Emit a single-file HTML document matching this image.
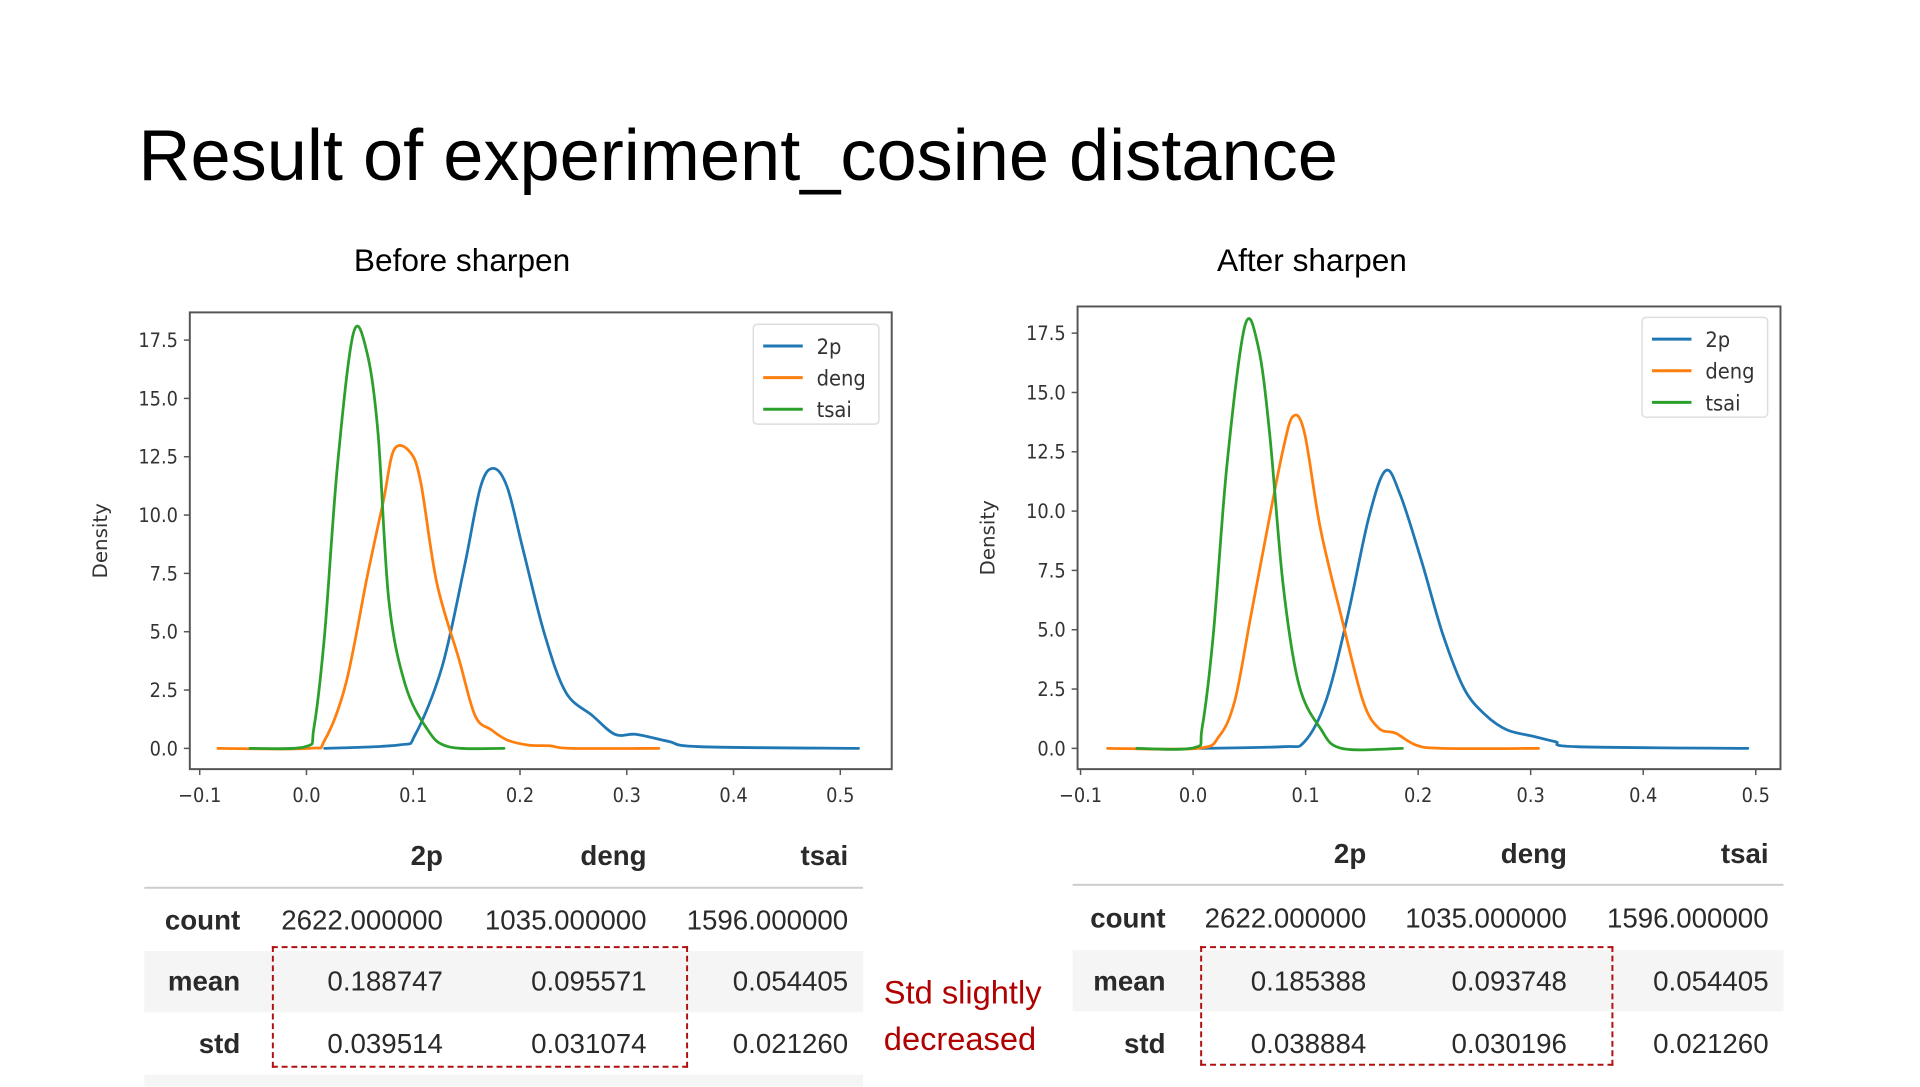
<!DOCTYPE html>
<html><head><meta charset="utf-8"><style>
body{margin:0;width:1920px;height:1080px;background:#fff;overflow:hidden;position:relative;font-family:"Liberation Sans",sans-serif}
#wrap{position:absolute;left:0;top:0;width:1920px;height:1100px;transform:scale(0.9886);transform-origin:0 0}
.abs{position:absolute}
.tbl{position:absolute;font-family:"Liberation Sans",sans-serif;font-size:28px;color:#2a2a2a}
.cell{position:absolute;text-align:right;white-space:nowrap}
</style></head><body>
<div id="wrap">
<div class="abs" style="left:140px;top:116px;font-size:73px;color:#000;white-space:nowrap">Result of experiment_cosine distance</div>
<div class="abs" style="left:358px;top:245px;font-size:32px;color:#000">Before sharpen</div>
<div class="abs" style="left:1231px;top:245px;font-size:32px;color:#000">After sharpen</div>
<svg id="svg" class="abs" style="left:0;top:0" width="1920" height="1100"></svg>

<div class="tbl" style="left:146px;top:840px;width:727px;height:260px">
 <div class="abs" style="left:0;top:57px;width:727px;height:2px;background:#ccc"></div>
 <div class="abs" style="left:0;top:122px;width:727px;height:62px;background:#f5f5f5"></div>
 <div class="abs" style="left:0;top:247px;width:727px;height:12px;background:#f5f5f5"></div>
 <div class="cell" style="right:425px;top:10px;font-weight:bold">2p</div>
 <div class="cell" style="right:219px;top:10px;font-weight:bold">deng</div>
 <div class="cell" style="right:15px;top:10px;font-weight:bold">tsai</div>
 <div class="cell" style="right:630px;top:75px;font-weight:bold">count</div>
 <div class="cell" style="right:425px;top:75px">2622.000000</div>
 <div class="cell" style="right:219px;top:75px">1035.000000</div>
 <div class="cell" style="right:15px;top:75px">1596.000000</div>
 <div class="cell" style="right:630px;top:137px;font-weight:bold">mean</div>
 <div class="cell" style="right:425px;top:137px">0.188747</div>
 <div class="cell" style="right:219px;top:137px">0.095571</div>
 <div class="cell" style="right:15px;top:137px">0.054405</div>
 <div class="cell" style="right:630px;top:200px;font-weight:bold">std</div>
 <div class="cell" style="right:425px;top:200px">0.039514</div>
 <div class="cell" style="right:219px;top:200px">0.031074</div>
 <div class="cell" style="right:15px;top:200px">0.021260</div>
</div>
<div class="abs" style="left:275px;top:957px;width:417px;height:119px;border:2px dashed #b01010"></div>
<div class="abs" style="left:894px;top:980px;font-size:33px;line-height:47px;color:#b00000">Std slightly<br>decreased</div>

<div class="tbl" style="left:1085px;top:838px;width:719px;height:262px">
 <div class="abs" style="left:0;top:56px;width:719px;height:2px;background:#ccc"></div>
 <div class="abs" style="left:0;top:123px;width:719px;height:62px;background:#f5f5f5"></div>
 <div class="cell" style="right:422px;top:10px;font-weight:bold">2p</div>
 <div class="cell" style="right:219px;top:10px;font-weight:bold">deng</div>
 <div class="cell" style="right:15px;top:10px;font-weight:bold">tsai</div>
 <div class="cell" style="right:625px;top:75px;font-weight:bold">count</div>
 <div class="cell" style="right:422px;top:75px">2622.000000</div>
 <div class="cell" style="right:219px;top:75px">1035.000000</div>
 <div class="cell" style="right:15px;top:75px">1596.000000</div>
 <div class="cell" style="right:625px;top:139px;font-weight:bold">mean</div>
 <div class="cell" style="right:422px;top:139px">0.185388</div>
 <div class="cell" style="right:219px;top:139px">0.093748</div>
 <div class="cell" style="right:15px;top:139px">0.054405</div>
 <div class="cell" style="right:625px;top:202px;font-weight:bold">std</div>
 <div class="cell" style="right:422px;top:202px">0.038884</div>
 <div class="cell" style="right:219px;top:202px">0.030196</div>
 <div class="cell" style="right:15px;top:202px">0.021260</div>
</div>
<div class="abs" style="left:1214px;top:957px;width:414px;height:117px;border:2px dashed #b01010"></div>
</div>

<script>
const seriesNames = ["2p","deng","tsai"];
const xTicks = [-0.1,0.0,0.1,0.2,0.3,0.4,0.5];
const xTickLabels = ["\u22120.1","0.0","0.1","0.2","0.3","0.4","0.5"];
const yTicks = [0,2.5,5,7.5,10,12.5,15,17.5];
const yTickLabels = ["0.0","2.5","5.0","7.5","10.0","12.5","15.0","17.5"];

const before2pX = [0.017,0.087,0.102,0.127,0.148,0.163,0.175,0.188,0.203,0.223,0.243,0.268,0.289,0.309,0.339,0.369,0.517];
const before2pY = [0,0.15,0.6,3.5,7.8,11.2,12,11.2,8.5,4.9,2.4,1.4,0.6,0.6,0.3,0.07,0];
const beforeDengX = [-0.083,0.002,0.017,0.037,0.057,0.072,0.082,0.097,0.107,0.122,0.143,0.158,0.173,0.188,0.208,0.228,0.248,0.33];
const beforeDengY = [0,0,0.35,2.8,7.4,10.6,12.8,12.7,11.4,7.1,3.8,1.4,0.8,0.36,0.14,0.11,0,0];
const beforeTsaiX = [-0.053,-0.001,0.007,0.017,0.029,0.044,0.057,0.067,0.077,0.092,0.112,0.133,0.185];
const beforeTsaiY = [0,0.07,0.9,4.9,12.1,17.8,16.9,13.5,6.4,2.8,0.9,0.07,0];

const after2pX = [0.006,0.08,0.099,0.118,0.137,0.156,0.171,0.184,0.203,0.222,0.241,0.26,0.279,0.303,0.322,0.341,0.493];
const after2pY = [0,0.07,0.28,2.0,5.5,9.7,11.7,10.7,7.9,4.8,2.5,1.4,0.78,0.5,0.28,0.07,0];
const afterDengX = [-0.076,0.004,0.023,0.037,0.051,0.065,0.08,0.089,0.099,0.113,0.132,0.151,0.165,0.18,0.198,0.222,0.307];
const afterDengY = [0,0,0.5,2.0,5.5,9.0,12.6,14.0,13.3,9.3,5.5,2.0,0.85,0.64,0.14,0,0];
const afterTsaiX = [-0.05,0.001,0.008,0.018,0.03,0.046,0.058,0.068,0.08,0.094,0.113,0.132,0.186];
const afterTsaiY = [0,0.03,0.85,4.8,11.9,17.8,16.9,13.3,6.9,2.7,0.85,0,0];

const colors = ["#1f77b4","#ff7f0e","#2ca02c"];
const NS="http://www.w3.org/2000/svg";
const svg=document.getElementById('svg');
function mk(tag,attrs,parent){const e=document.createElementNS(NS,tag);for(const k in attrs)e.setAttribute(k,attrs[k]);(parent||svg).appendChild(e);return e;}
function smoothPath(p){
  let d='M'+p[0][0].toFixed(1)+','+p[0][1].toFixed(1);
  for(let i=0;i<p.length-1;i++){
    const p0=p[Math.max(0,i-1)],p1=p[i],p2=p[i+1],p3=p[Math.min(p.length-1,i+2)];
    const c1=[p1[0]+(p2[0]-p0[0])/6,p1[1]+(p2[1]-p0[1])/6];
    const c2=[p2[0]-(p3[0]-p1[0])/6,p2[1]-(p3[1]-p1[1])/6];
    d+=` C${c1[0].toFixed(1)},${c1[1].toFixed(1)} ${c2[0].toFixed(1)},${c2[1].toFixed(1)} ${p2[0].toFixed(1)},${p2[1].toFixed(1)}`;
  }
  return d;
}

function drawChart(cfg,series,prefix){
  const g=mk('g',{});
  
  
  const sx=v=>cfg.x0+(v-(-0.1))/0.6*(cfg.x1-cfg.x0);
  const sy=v=>cfg.y0-(v/17.5)*(cfg.y0-cfg.y1);
  series.forEach((s,i)=>{
    const pts=s.x.map((xv,j)=>[sx(xv),sy(s.y[j])]);
    const pl=mk('path',{d:smoothPath(pts),fill:'none',stroke:colors[i],'stroke-width':2.8,'stroke-linejoin':'round','stroke-linecap':'round'},g);
    
    
  });
  const fr=mk('rect',{x:cfg.fx0,y:cfg.fy0,width:cfg.fx1-cfg.fx0,height:cfg.fy1-cfg.fy0,fill:'none',stroke:'#555','stroke-width':2},g);
  
  
  xTicks.forEach((t,i)=>{
    const x=sx(t);
    mk('line',{x1:x,x2:x,y1:cfg.fy1,y2:cfg.fy1+6,stroke:'#555','stroke-width':1.5},g);
    const tx=mk('text',{x:x,y:cfg.fy1+33,'text-anchor':'middle','font-size':20,fill:'#333','font-family':'DejaVu Sans Condensed, DejaVu Sans, sans-serif'},g);
    tx.textContent=xTickLabels[i];
    
    
  });
  yTicks.forEach((t,i)=>{
    const y=sy(t);
    mk('line',{x1:cfg.fx0-6,x2:cfg.fx0,y1:y,y2:y,stroke:'#555','stroke-width':1.5},g);
    const tx=mk('text',{x:cfg.fx0-12,y:y+7,'text-anchor':'end','font-size':20,fill:'#333','font-family':'DejaVu Sans Condensed, DejaVu Sans, sans-serif'},g);
    tx.textContent=yTickLabels[i];
    
    
  });
  const yl=mk('text',{x:0,y:0,transform:`translate(${cfg.fx0-84},${(cfg.fy0+cfg.fy1)/2}) rotate(-90)`,'text-anchor':'middle','font-size':20,fill:'#333','font-family':'DejaVu Sans, sans-serif'},g);
  yl.textContent='Density';
  
  
  const lg=mk('g',{},g);
  
  
  mk('rect',{x:cfg.lx,y:cfg.ly,width:127,height:101,rx:4,fill:'#fff',stroke:'#ddd','stroke-width':1.5},lg);
  seriesNames.forEach((n,i)=>{
    const yy=cfg.ly+22+i*32;
    mk('line',{x1:cfg.lx+10,x2:cfg.lx+50,y1:yy,y2:yy,stroke:colors[i],'stroke-width':3},lg);
    const t=mk('text',{x:cfg.lx+64,y:yy+8,'font-size':22,fill:'#333','font-family':'DejaVu Sans Condensed, DejaVu Sans, sans-serif'},lg);
    t.textContent=n;
    
    
  });
}
drawChart({x0:202,x1:850,y0:757,y1:344,fx0:192,fx1:902,fy0:316,fy1:778,lx:762,ly:328},
  [{x:before2pX,y:before2pY},{x:beforeDengX,y:beforeDengY},{x:beforeTsaiX,y:beforeTsaiY}],'before');
drawChart({x0:1093,x1:1776,y0:757,y1:337,fx0:1090,fx1:1801,fy0:310,fy1:778,lx:1661,ly:321},
  [{x:after2pX,y:after2pY},{x:afterDengX,y:afterDengY},{x:afterTsaiX,y:afterTsaiY}],'after');
</script>
</body></html>
